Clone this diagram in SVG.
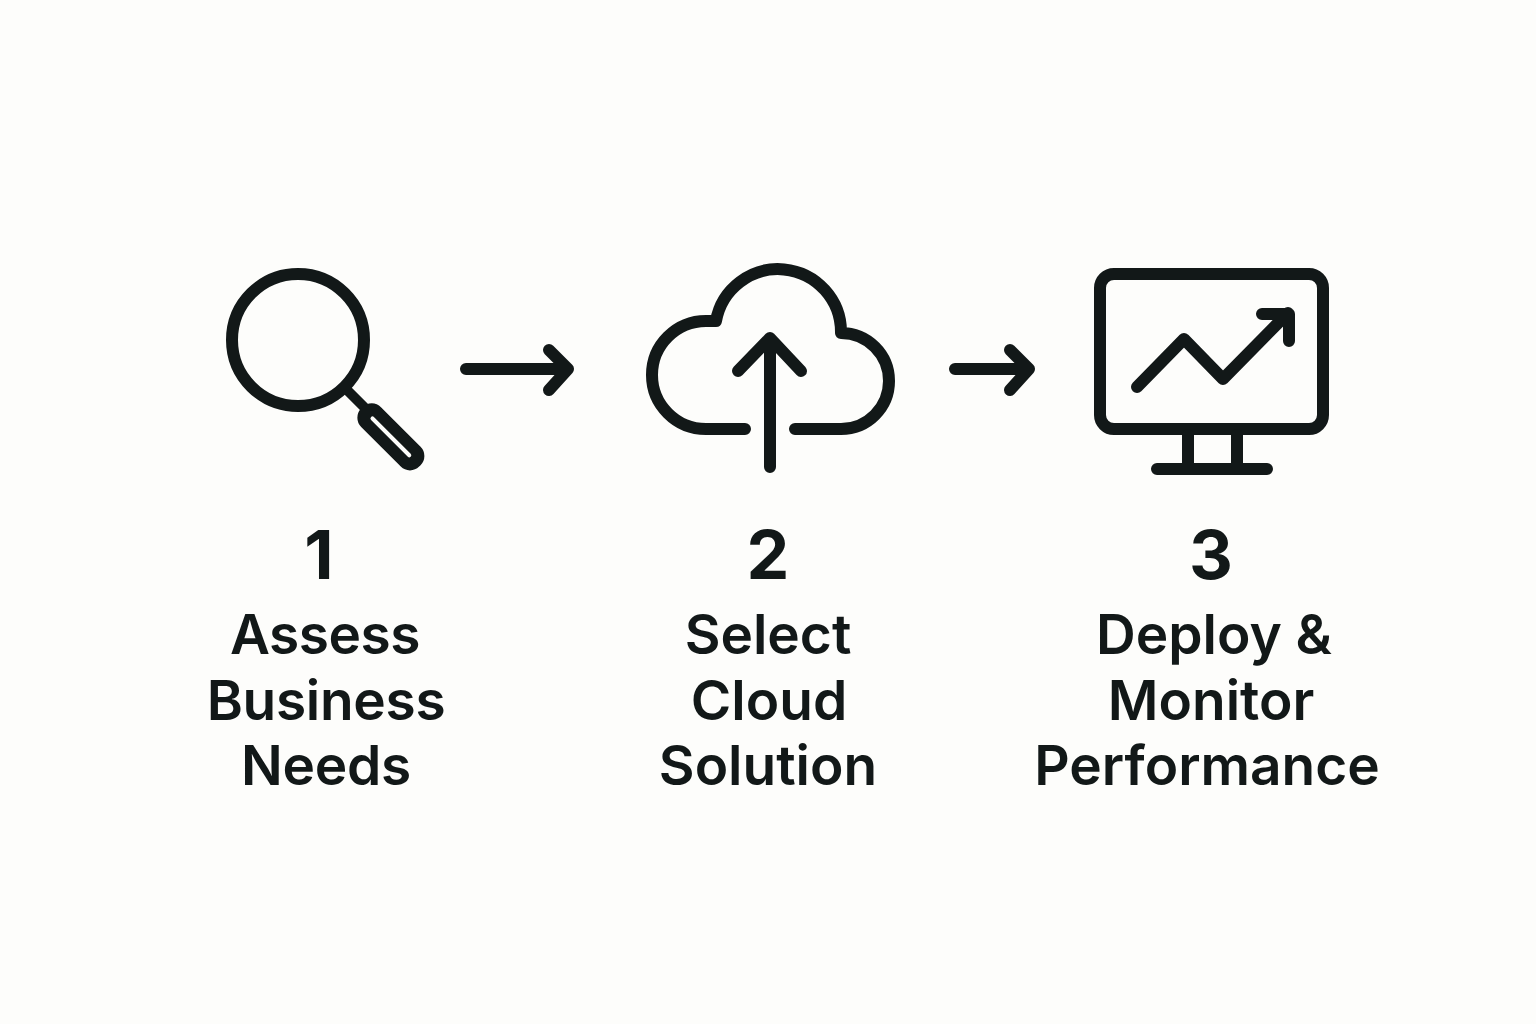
<svg xmlns="http://www.w3.org/2000/svg" width="1536" height="1024" viewBox="0 0 1536 1024">
<style>
.s{fill:none;stroke:#121818;stroke-width:12;stroke-linecap:round;stroke-linejoin:round}
.t{fill:#121818;stroke:none;font-family:Inter,"Liberation Sans",sans-serif;font-weight:600;font-size:55px;text-anchor:middle}
.n{font-size:68px;font-weight:700}
</style>
<rect width="1536" height="1024" fill="#fdfdfb"/>
<g id="connectors">
<path id="arrow-1-2" class="s" d="M466 369H567M549 350L568 369L549 390"/>
<path id="arrow-2-3" class="s" d="M955 369H1028M1010 350L1029 369L1010 390"/>
</g>
<g id="node-1">
<circle class="s" cx="298" cy="340" r="66"/>
<path class="s" style="stroke-width:10;stroke-linecap:butt" d="M345 388L366 409"/>
<g transform="rotate(45 364 410)">
<rect x="361" y="396" width="82" height="28" rx="13" fill="#121818"/>
<rect x="374" y="408" width="56" height="4" rx="2" fill="#fdfdfb"/>
</g>
<text class="t n" x="319" y="579">1</text>
<text class="t" x="325" y="654" letter-spacing="-0.5">Assess</text>
<text class="t" x="326" y="720" letter-spacing="-0.3">Business</text>
<text class="t" x="326" y="785" letter-spacing="-0.3">Needs</text>
</g>
<g id="node-2">
<path class="s" d="M745 429H706A54 54 0 0 1 706 321H716A63 63 0 0 1 841 333A48 48 0 0 1 841 429H795"/>
<path class="s" d="M770 467V340M738 371L770 338L801 371"/>
<text class="t n" x="768" y="579">2</text>
<text class="t" x="768" y="654">Select</text>
<text class="t" x="769" y="720">Cloud</text>
<text class="t" x="768" y="785">Solution</text>
</g>
<g id="node-3">
<rect class="s" x="1100" y="274" width="223" height="155" rx="14"/>
<path class="s" d="M1137 387L1184 339L1223 379L1288 313M1262 314H1289V341"/>
<path class="s" d="M1188 435V468M1237 435V468M1157 469H1267"/>
<text class="t n" x="1211" y="579">3</text>
<text class="t" x="1214" y="654">Deploy &amp;</text>
<text class="t" x="1211" y="720">Monitor</text>
<text class="t" x="1207" y="785">Performance</text>
</g>
</svg>
